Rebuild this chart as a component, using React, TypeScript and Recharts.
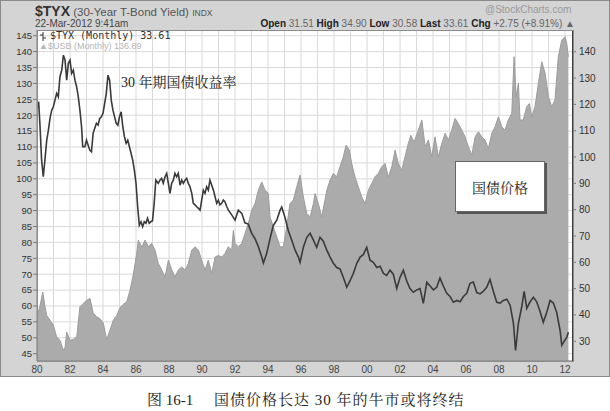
import React from 'react';
import { ComposedChart, Area, Line, XAxis, YAxis, CartesianGrid } from 'recharts';

// ---- $TYX (30-Year T-Bond Yield, x10), monthly, right axis ----
const tyxDates = [
  1980.0, 1980.1, 1980.18, 1980.28, 1980.38, 1980.48, 1980.59, 1980.69, 1980.79, 1980.89, 1980.99,
  1981.09, 1981.19, 1981.29, 1981.39, 1981.5, 1981.6, 1981.7, 1981.8, 1981.9, 1982.0,
  1982.1, 1982.2, 1982.3, 1982.4, 1982.5, 1982.6, 1982.7, 1982.77, 1982.9, 1983.0,
  1983.1, 1983.2, 1983.3, 1983.4, 1983.5, 1983.6, 1983.7, 1983.8, 1983.9, 1984.0,
  1984.1, 1984.2, 1984.3, 1984.4, 1984.5, 1984.6, 1984.7, 1984.8, 1984.9, 1985.0,
  1985.1, 1985.2, 1985.3, 1985.4, 1985.5, 1985.6, 1985.7, 1985.8, 1985.9, 1986.0,
  1986.1, 1986.2, 1986.3, 1986.4, 1986.5, 1986.6, 1986.7, 1986.8, 1986.9, 1987.0,
  1987.1, 1987.2, 1987.35, 1987.45, 1987.55, 1987.65, 1987.76, 1987.86, 1987.96,
  1988.06, 1988.16, 1988.26, 1988.36, 1988.46, 1988.56, 1988.67, 1988.77, 1988.87, 1988.97,
  1989.07, 1989.17, 1989.27, 1989.38, 1989.47, 1989.58, 1989.68, 1989.78, 1989.88, 1989.98,
  1990.08, 1990.18, 1990.28, 1990.38, 1990.48, 1990.59, 1990.69, 1990.79, 1990.89, 1990.99,
  1991.09, 1991.19, 1991.29, 1991.39, 1991.5, 1991.6, 1991.8,
  1992.0, 1992.2, 1992.41, 1992.6, 1992.8, 1993.01, 1993.21, 1993.41, 1993.62, 1993.72, 1993.92,
  1994.12, 1994.32, 1994.53, 1994.73, 1994.83, 1995.03, 1995.23, 1995.44, 1995.64, 1995.84, 1995.94,
  1996.14, 1996.35, 1996.55, 1996.75, 1996.95, 1997.15, 1997.35, 1997.56, 1997.76, 1997.96,
  1998.16, 1998.36, 1998.56, 1998.77, 1998.97, 1999.17, 1999.38, 1999.58, 1999.78, 1999.98,
  2000.18, 2000.38, 2000.59, 2000.79, 2000.99, 2001.19, 2001.39, 2001.59, 2001.8,
  2002.0, 2002.2, 2002.4, 2002.6, 2002.81, 2003.01, 2003.21, 2003.41, 2003.62, 2003.82,
  2004.02, 2004.22, 2004.42, 2004.62, 2004.83, 2005.03, 2005.23, 2005.44, 2005.64, 2005.84,
  2006.04, 2006.24, 2006.44, 2006.65, 2006.85, 2007.05, 2007.25, 2007.45, 2007.65, 2007.86,
  2008.06, 2008.26, 2008.47, 2008.67, 2008.87, 2009.0, 2009.17, 2009.38, 2009.52, 2009.68, 2009.88,
  2010.08, 2010.28, 2010.48, 2010.68, 2010.89, 2011.09, 2011.29, 2011.49, 2011.7, 2011.8, 2011.9,
  2012.1, 2012.2,
];
const tyxValues = [
  118, 121, 112, 98.8, 92.5, 98.8, 106.4, 110.2, 114.7, 117.8, 119.1,
  121.6, 124.2, 122.9, 130.5, 133, 138.7, 136.8, 129.2, 135.6, 136.8,
  131.8, 133, 129.2, 126.7, 122.9, 117.8, 111.5, 103.9, 103.9, 106.4,
  104.5, 102.6, 102, 109, 110.9, 112.8, 112.1, 114.7, 115.3, 116.6,
  120.4, 124.2, 131.1, 129.2, 121.6, 117.8, 115.3, 112.8, 112.1, 115.3,
  117.2, 111.5, 107.7, 105.2, 106.4, 103.9, 101.4, 98.8, 95, 90,
  81.1, 74.1, 75.4, 73.5, 75.4, 74.8, 76.7, 74.8, 75.4, 75.8,
  82.4, 91.2, 90, 91.2, 91.9, 90, 92.5, 93.8, 90,
  86.2, 90, 91.2, 93.8, 92.5, 93.8, 89.3, 91.2, 90, 91.2,
  91.9, 90, 88.7, 86.2, 82.4, 81.8, 81.1, 80.5, 79.8, 83.6,
  87.4, 86.2, 88.7, 87.4, 91.2, 89.3, 87.4, 84.9, 82.4, 83.6,
  81.8, 82.4, 83.6, 83, 81.1, 79.8, 78,
  76, 79.8, 78.6, 75, 74.5, 71, 69, 66, 62, 59.7, 63.4,
  69, 74, 76, 79.8, 81, 77, 72, 68.4, 64.6, 62, 60,
  65.7, 69.5, 71, 68.4, 65.7, 69.5, 68, 64.6, 62, 59.6,
  58, 57.5, 54.3, 50.5, 53, 55.8, 59.6, 62, 63, 65.7,
  60.8, 60, 58, 58.5, 55.8, 55, 57, 55.5, 50,
  54.3, 57, 53, 50, 48.6, 49.5, 50, 44.4, 52.4, 51,
  49.5, 50.5, 54, 51, 48.2, 47, 44.8, 45.5, 45, 47,
  48.2, 52, 52.5, 48.5, 48, 49, 50.5, 53.5, 49, 44.8,
  44.5, 45.5, 46, 43.7, 36.8, 26.5, 36.8, 43.3, 49, 42.5, 45,
  46.7, 45, 41.4, 37.2, 41, 45.5, 44.5, 41, 34, 28.5, 29.6,
  31.5, 33.4,
];

// ---- $USB (Treasury bond price), monthly, left axis ----
const usbDates = [
  1980.0, 1980.18, 1980.35, 1980.48, 1980.59, 1980.79, 1980.99, 1981.19, 1981.39, 1981.6, 1981.7, 1981.8,
  1982.0, 1982.2, 1982.41, 1982.6, 1982.8, 1983.01, 1983.21, 1983.41, 1983.62, 1983.82,
  1984.02, 1984.22, 1984.42, 1984.62, 1984.83, 1985.03, 1985.23, 1985.44, 1985.64, 1985.84,
  1986.04, 1986.14, 1986.35, 1986.55, 1986.75, 1986.95, 1987.15, 1987.35, 1987.56, 1987.76, 1987.96,
  1988.16, 1988.36, 1988.56, 1988.77, 1988.97, 1989.17, 1989.38, 1989.58, 1989.78, 1989.98,
  1990.18, 1990.38, 1990.59, 1990.79, 1990.99, 1991.19, 1991.39, 1991.59, 1991.8, 1991.9,
  1992.0, 1992.2, 1992.41, 1992.61, 1992.81, 1993.01, 1993.21, 1993.41, 1993.62, 1993.82,
  1994.02, 1994.12, 1994.32, 1994.53, 1994.73, 1994.93, 1995.13, 1995.33, 1995.53, 1995.74, 1995.94,
  1996.14, 1996.35, 1996.55, 1996.75, 1996.85, 1997.05, 1997.25, 1997.45, 1997.56, 1997.76, 1997.96,
  1998.16, 1998.36, 1998.56, 1998.73, 1998.93, 1999.07, 1999.27, 1999.47, 1999.68, 1999.88,
  2000.08, 2000.28, 2000.48, 2000.68, 2000.89, 2001.09, 2001.29, 2001.5, 2001.7, 2001.9,
  2002.1, 2002.3, 2002.5, 2002.65, 2002.85, 2003.11, 2003.32, 2003.52, 2003.72, 2003.92,
  2004.12, 2004.32, 2004.53, 2004.73, 2004.93, 2005.13, 2005.33, 2005.53, 2005.74, 2005.94,
  2006.14, 2006.35, 2006.55, 2006.75, 2006.95, 2007.15, 2007.35, 2007.56, 2007.76, 2007.96,
  2008.16, 2008.36, 2008.56, 2008.77, 2008.91, 2009.03, 2009.17, 2009.27, 2009.47, 2009.68, 2009.84, 2009.98,
  2010.18, 2010.38, 2010.59, 2010.79, 2010.99, 2011.19, 2011.39, 2011.59, 2011.8, 2012.0, 2012.1, 2012.2,
];
const usbValues = [
  56.6, 60, 64.4, 60, 57, 55.5, 54, 50.3, 49.2, 46.1, 47, 51.8,
  49.2, 49.5, 50.3, 59.7, 60.8, 61.8, 62.4, 57.7, 56.6, 56,
  54.6, 49.5, 52.4, 55.5, 57, 59.5, 60.5, 61.3, 65, 70,
  76.5, 80.7, 78.5, 80.7, 78.6, 79.7, 77.6, 73.4, 71.3, 69.1, 74.4,
  71.5, 69.1, 71.3, 72.3, 71.3, 73.4, 77.6, 78.6, 77.6, 74.4,
  71.3, 74.4, 70.3, 75.4, 75.9, 75.4, 76.5, 78.6, 77.6, 83.8,
  79.7, 78.6, 79.7, 82.9, 86, 90.1, 92.2, 96.4, 99, 96.4,
  95.4, 88, 84.9, 81.7, 78.6, 78.6, 84.9, 92.2, 93.3, 97.5, 101.2,
  94.3, 89.1, 88, 92.2, 95.4, 92.2, 88, 93.3, 96.4, 99.6, 101.7,
  100.6, 103.8, 106.9, 110.6, 109, 104.8, 100.6, 97.5, 94.3, 92.2,
  96.4, 98.5, 100.6, 101.7, 103.8, 104.8, 100.6, 103.8, 109, 104.8,
  102.7, 106.9, 111.1, 113.7, 111.5, 115.3, 118.5, 110.1, 112.2, 106.9,
  113.2, 106.9, 111.1, 114.3, 112.2, 115.3, 119, 117.4, 115.3, 113.2,
  110.1, 107.5, 113.2, 114.8, 113.2, 112.2, 109.5, 114.3, 116.4, 119.5,
  116.4, 115.3, 118.5, 120.6, 138.4, 125.8, 130, 118.5, 118.5, 122.7, 123.7, 119.5,
  122.7, 130, 136.8, 133.2, 125.8, 122.7, 124.8, 138.4, 143.6, 144.7, 142.6, 138.4,
];

// ---- axes ----
const gridYears = [
  1980, 1981, 1982, 1983, 1984, 1985, 1986, 1987, 1988, 1989, 1990, 1991, 1992, 1993, 1994, 1995, 1996,
  1997, 1998, 1999, 2000, 2001, 2002, 2003, 2004, 2005, 2006, 2007, 2008, 2009, 2010, 2011, 2012,
];
const xLabelYears = [1980, 1982, 1984, 1986, 1988, 1990, 1992, 1994, 1996, 1998, 2000, 2002, 2004, 2006, 2008, 2010, 2012];
const xLabelTexts = ['80', '82', '84', '86', '88', '90', '92', '94', '96', '98', '00', '02', '04', '06', '08', '10', '12'];
const leftTicks = [45, 50, 55, 60, 65, 70, 75, 80, 85, 90, 95, 100, 105, 110, 115, 120, 125, 130, 135, 140, 145];
const rightTicks = [30, 40, 50, 60, 70, 80, 90, 100, 110, 120, 130, 140];

const tyxData = tyxDates.map((t, i) => ({ t, v: tyxValues[i] }));
const usbData = usbDates.map((t, i) => ({ t, p: usbValues[i] }));

const sans = '"Liberation Sans", Arial, sans-serif';
const cjk = '"Liberation Serif", "Noto Serif CJK SC", "Noto Sans CJK SC", serif';

const xFmt = (v: number) => {
  const i = xLabelYears.indexOf(v);
  return i >= 0 ? xLabelTexts[i] : '';
};

export default function App() {
  return (
    <div style={{ position: 'absolute', left: 0, top: 0, width: 610, height: 411, background: '#fff', overflow: 'hidden' }}>
      {/* gray chart frame */}
      <div
        style={{
          position: 'absolute', left: 0, top: 0, width: 608, height: 375,
          background: '#d4d4d4', border: '1px solid #8a8a8a',
        }}
      />
      <div style={{ position: 'absolute', left: 0, top: 0 }}>
        <ComposedChart width={610} height={376} margin={{ top: 30, right: 0, bottom: 0, left: 0 }}>
          <CartesianGrid yAxisId="left" stroke="#d9d9d9" fill="#ffffff" strokeWidth={1} />
          <XAxis
            type="number"
            dataKey="t"
            domain={[1980, 2012.48]}
            allowDataOverflow
            ticks={gridYears}
            interval={0}
            tickFormatter={xFmt}
            height={15}
            tickLine={false}
            tickSize={3}
            tickMargin={2}
            axisLine={{ stroke: '#808080' }}
            tick={{ fontSize: 10, fill: '#444', fontFamily: sans }}
          />
          <YAxis
            yAxisId="left"
            orientation="left"
            width={37}
            domain={[42.7, 146.8]}
            allowDataOverflow
            ticks={leftTicks}
            interval={0}
            tickSize={4}
            tickMargin={1}
            tickLine={{ stroke: '#777' }}
            axisLine={{ stroke: '#808080' }}
            tick={{ fontSize: 9.5, fill: '#333', fontFamily: sans }}
          />
          <YAxis
            yAxisId="right"
            orientation="right"
            width={37}
            domain={[22.5, 148.25]}
            allowDataOverflow
            ticks={rightTicks}
            interval={0}
            tickSize={3}
            tickMargin={3}
            tickLine={{ stroke: '#777' }}
            axisLine={{ stroke: '#3c3c3c', strokeWidth: 2 }}
            tick={{ fontSize: 10, fill: '#333', fontFamily: sans }}
          />
          <Area
            yAxisId="left"
            data={usbData}
            dataKey="p"
            type="linear"
            fill="#ababab"
            fillOpacity={1}
            stroke="#9c9c9c"
            strokeWidth={1}
            isAnimationActive={false}
            dot={false}
            activeDot={false}
          />
          <Line
            yAxisId="right"
            data={tyxData}
            dataKey="v"
            type="linear"
            stroke="#3a3a3a"
            strokeWidth={1.6}
            dot={false}
            activeDot={false}
            isAnimationActive={false}
          />
        </ComposedChart>
      </div>

      {/* plot border */}
      <div style={{ position: 'absolute', left: 37, top: 30, width: 535, height: 330, border: '1px solid #8c8c8c', pointerEvents: 'none' }} />

      {/* header */}
      <div style={{ position: 'absolute', left: 35, top: 3, fontFamily: sans, color: '#333', whiteSpace: 'nowrap', lineHeight: '16px' }}>
        <span style={{ fontSize: 14, fontWeight: 'bold' }}>$TYX</span>
        <span style={{ fontSize: 11.5, color: '#555' }}> (30-Year T-Bond Yield) </span>
        <span style={{ fontSize: 8.5, color: '#555' }}>INDX</span>
      </div>
      <div style={{ position: 'absolute', left: 485, top: 4, fontFamily: sans, fontSize: 10, color: '#999', whiteSpace: 'nowrap' }}>
        @StockCharts.com
      </div>
      <div style={{ position: 'absolute', left: 35, top: 18, fontFamily: sans, fontSize: 10, color: '#444', whiteSpace: 'nowrap' }}>
        22-Mar-2012 9:41am
      </div>
      <div style={{ position: 'absolute', right: 35, top: 18, fontFamily: sans, fontSize: 10, color: '#666', whiteSpace: 'nowrap' }}>
        <b style={{ color: '#222' }}>Open</b> 31.51 <b style={{ color: '#222' }}>High</b> 34.90 <b style={{ color: '#222' }}>Low</b> 30.58{' '}
        <b style={{ color: '#222' }}>Last</b> 33.61 <b style={{ color: '#222' }}>Chg</b> +2.75 (+8.91%) ▲
      </div>

      {/* legend inside plot */}
      <svg style={{ position: 'absolute', left: 39, top: 32 }} width={8} height={9}>
        <line x1={4} y1={0} x2={4} y2={9} stroke="#333" strokeWidth={1} />
        <line x1={1} y1={3} x2={4} y2={3} stroke="#333" strokeWidth={1} />
        <line x1={4} y1={6} x2={7} y2={6} stroke="#333" strokeWidth={1} />
      </svg>
      <div style={{ position: 'absolute', left: 50, top: 30, fontFamily: '"DejaVu Sans Mono", monospace', fontSize: 10, color: '#333', whiteSpace: 'nowrap' }}>
        $TYX (Monthly) 33.61
      </div>
      <div style={{ position: 'absolute', left: 39, top: 41, fontFamily: sans, fontSize: 9, color: '#b5b5b5', whiteSpace: 'nowrap' }}>
        ▲$USB (Monthly) 136.89
      </div>

      {/* annotations */}
      <div style={{ position: 'absolute', left: 121, top: 74, fontFamily: cjk, fontSize: 14, color: '#222', whiteSpace: 'nowrap', lineHeight: '18px' }}>
        30 年期国债收益率
      </div>
      <div
        style={{
          position: 'absolute', left: 455, top: 161, width: 88, height: 49,
          background: '#fff', border: '1px solid #666', boxShadow: '2px 2px 0 #555',
          display: 'flex', alignItems: 'center', justifyContent: 'center',
          fontFamily: cjk, fontSize: 14, color: '#222',
        }}
      >
        国债价格
      </div>

      {/* caption */}
      <div style={{ position: 'absolute', left: 147, top: 391, fontFamily: cjk, fontSize: 15, color: '#222', whiteSpace: 'nowrap', lineHeight: '18px' }}>
        图 16-1
      </div>
      <div style={{ position: 'absolute', left: 214, top: 391, fontFamily: cjk, fontSize: 15, color: '#222', whiteSpace: 'nowrap', lineHeight: '18px', letterSpacing: 1 }}>
        国债价格长达 30 年的牛市或将终结
      </div>
    </div>
  );
}
